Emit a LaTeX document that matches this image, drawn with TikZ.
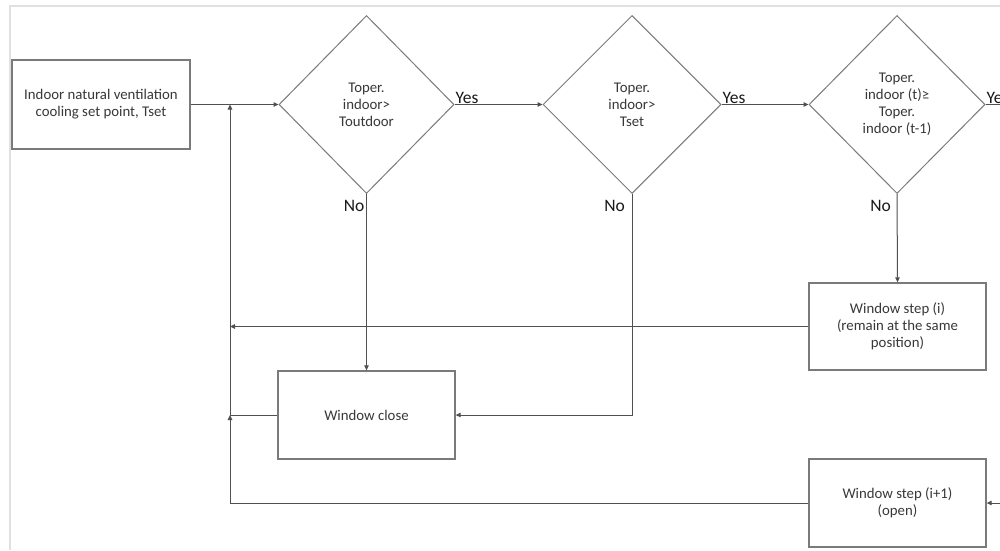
\documentclass[tikz,border=0pt]{standalone}
\usepackage{fontspec}
\setmainfont{Carlito}
\usetikzlibrary{shapes.geometric,arrows.meta}
\definecolor{boxc}{HTML}{7A7A7A}
\definecolor{linec}{HTML}{505050}
\definecolor{txtc}{HTML}{383838}
\definecolor{framec}{HTML}{E0E0E0}
\begin{document}
\begin{tikzpicture}[x=1pt,y=-1pt,
  txt/.style={text=txtc,align=center,font=\fontsize{14.8}{17}\selectfont},
  box/.style={txt,draw=boxc,line width=1.3pt,minimum width=177pt,minimum height=88pt,inner sep=0pt},
  dia/.style={txt,draw=boxc,line width=1pt,shape=diamond,inner sep=0pt,minimum width=176pt,minimum height=178pt},
  conn/.style={draw=linec,line width=1pt},
  arr/.style={conn,-{Triangle[length=5pt,width=4.5pt]}},
  lbl/.style={text=black!90,font=\fontsize{17.5}{20}\selectfont,inner sep=0pt}]
\useasboundingbox (0,0) rectangle (1000,550);
\fill[white] (0,0) rectangle (1000,550);
\draw[framec,line width=1.5pt] (10,550) -- (10,6) -- (1000,6);

\node[box,minimum width=178pt,minimum height=89pt] (input) at (101,104.5) {Indoor natural ventilation\\cooling set point, Tset};
\node[dia,minimum width=175pt] (d1) at (366.5,104.5) {Toper.\\indoor>\\Toutdoor};
\node[dia,minimum width=178pt] (d2) at (632,104.5) {Toper.\\indoor>\\Tset};
\node[dia] (d3) at (897,104.5) {Toper.\\indoor (t)≥\\Toper.\\indoor (t-1)};
\node[box,minimum height=87pt] (si) at (897.5,326.5) {Window step (i)\\(remain at the same\\position)};
\node[box] (close) at (366.5,415) {Window close};
\node[box] (sip) at (897.5,503) {Window step (i+1)\\(open)};

\coordinate (j1) at (230,104.5);
\coordinate (j3) at (230,503);
\coordinate (yesend) at (1000,104.5);
\coordinate (rin) at (1000,503);

\draw[arr] (input.east) -- (d1.west);
\draw[arr] (d1.east) -- (d2.west);
\draw[arr] (d2.east) -- (d3.west);
\draw[conn] (d3.east) -- (yesend);
\draw[arr] (d1.south) -- (close.north);
\draw[arr] (d2.south) |- (close.east);
\draw[arr] (d3.south) -- (si.north);
\draw[arr] (si.west) -- (si.west -| j1);
\draw[conn] (close.west) -- (close.west -| j1);
\draw[arr] (sip.west) -- (j3) -- (j3 |- close.west);
\draw[arr] (j3 |- close.west) -- (j1);
\draw[arr] (rin) -- (sip.east);

\node[lbl,anchor=base west,xshift=1pt,yshift=1.5pt] at (d1.east) {Yes};
\node[lbl,anchor=base west,xshift=1pt,yshift=1.5pt] at (d2.east) {Yes};
\node[lbl,anchor=base west,xshift=1pt,yshift=1.5pt] at (d3.east) {Yes};
\node[lbl,anchor=base east,xshift=-2pt,yshift=-17pt] at (d1.south) {No};
\node[lbl,anchor=base east,xshift=-7pt,yshift=-17pt] at (d2.south) {No};
\node[lbl,anchor=base east,xshift=-6pt,yshift=-17pt] at (d3.south) {No};
\end{tikzpicture}
\end{document}
